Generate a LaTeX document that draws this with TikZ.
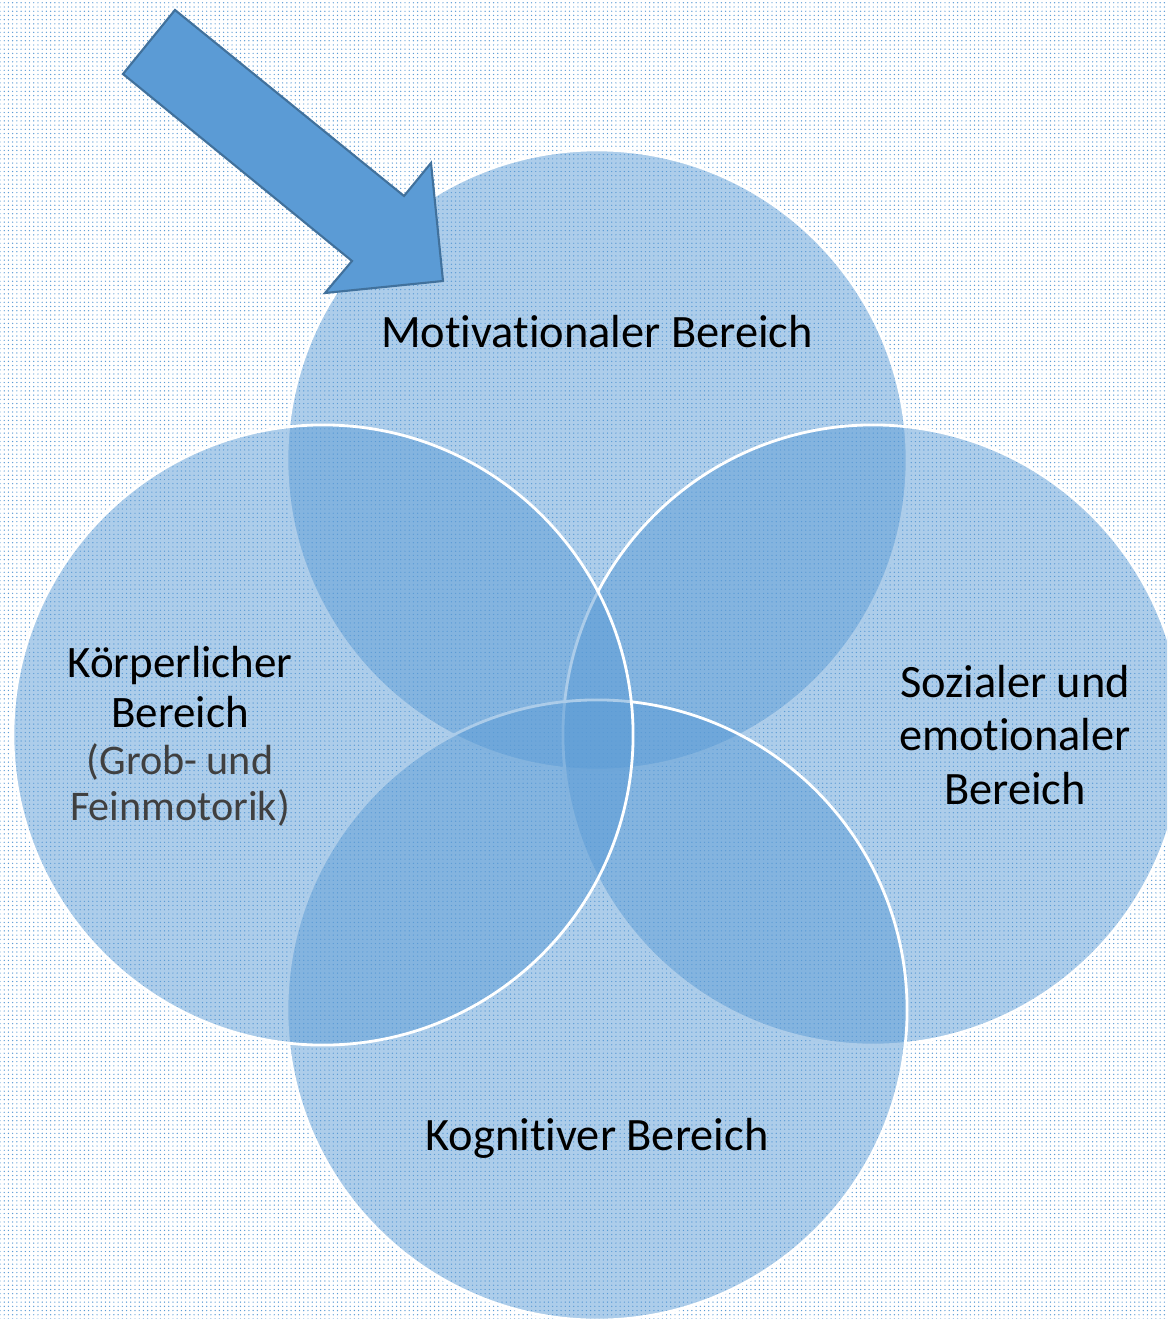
\documentclass[tikz,border=0pt]{standalone}
\usepackage{fontspec}
\setmainfont{Carlito}[Ligatures=NoCommon]
\usepackage{xcolor}
\usetikzlibrary{patterns}

\definecolor{officeblue}{HTML}{5B9BD5}
\definecolor{arrowline}{HTML}{41719C}
\definecolor{graytext}{HTML}{404040}

\tikzset{
  bereich/.style={circle, minimum size=15.5cm, inner sep=0pt,
    fill=officeblue, fill opacity=0.5, draw=white, draw opacity=1, line width=2pt},
  beschrift/.style={font=\fontsize{33}{38}\selectfont, align=center, text=black},
  klein/.style={font=\fontsize{30}{32.6}\selectfont, text=graytext}
}

\begin{document}
\begin{tikzpicture}[x=0.025cm, y=-0.025cm]
        \useasboundingbox (0,0) rectangle (1167,1319);
        \fill[pattern=dots, pattern color=officeblue] (0,0) rectangle (1167,1319);
        \clip (0,0) rectangle (1167,1319);
        % die vier Bereiche
        \node[bereich](motiv) at (597,460) {};
        \node[bereich](sozial) at (873,735) {};
        \node[bereich](kogn) at (597,1010) {};
        \node[bereich](koerper) at (323,735) {};
        % Beschriftungen
        \node[beschrift](motivtxt) at (597,332) {Motivationaler Bereich};
        \node[beschrift](sozialtxt) at (1015,735) {Sozialer und\\emotionaler\\Bereich};
        \node[beschrift](kogntxt) at (597,1138) {Kognitiver Bereich};
        \node[beschrift, font=\fontsize{32}{35.5}\selectfont](koerpertxt) at (180,687) {K\"orperlicher\\Bereich};
        \node[klein, align=center](motoriktxt) at (180,785) {(Grob- und\\Feinmotorik)};
        % Pfeil
        \draw[fill=officeblue, draw=arrowline, line width=1.5pt, line join=miter]
          (175,10) -- (404,196) -- (431,163) -- (443,281) -- (325,293) -- (352,261) -- (123,74) -- cycle;
\end{tikzpicture}
\end{document}
